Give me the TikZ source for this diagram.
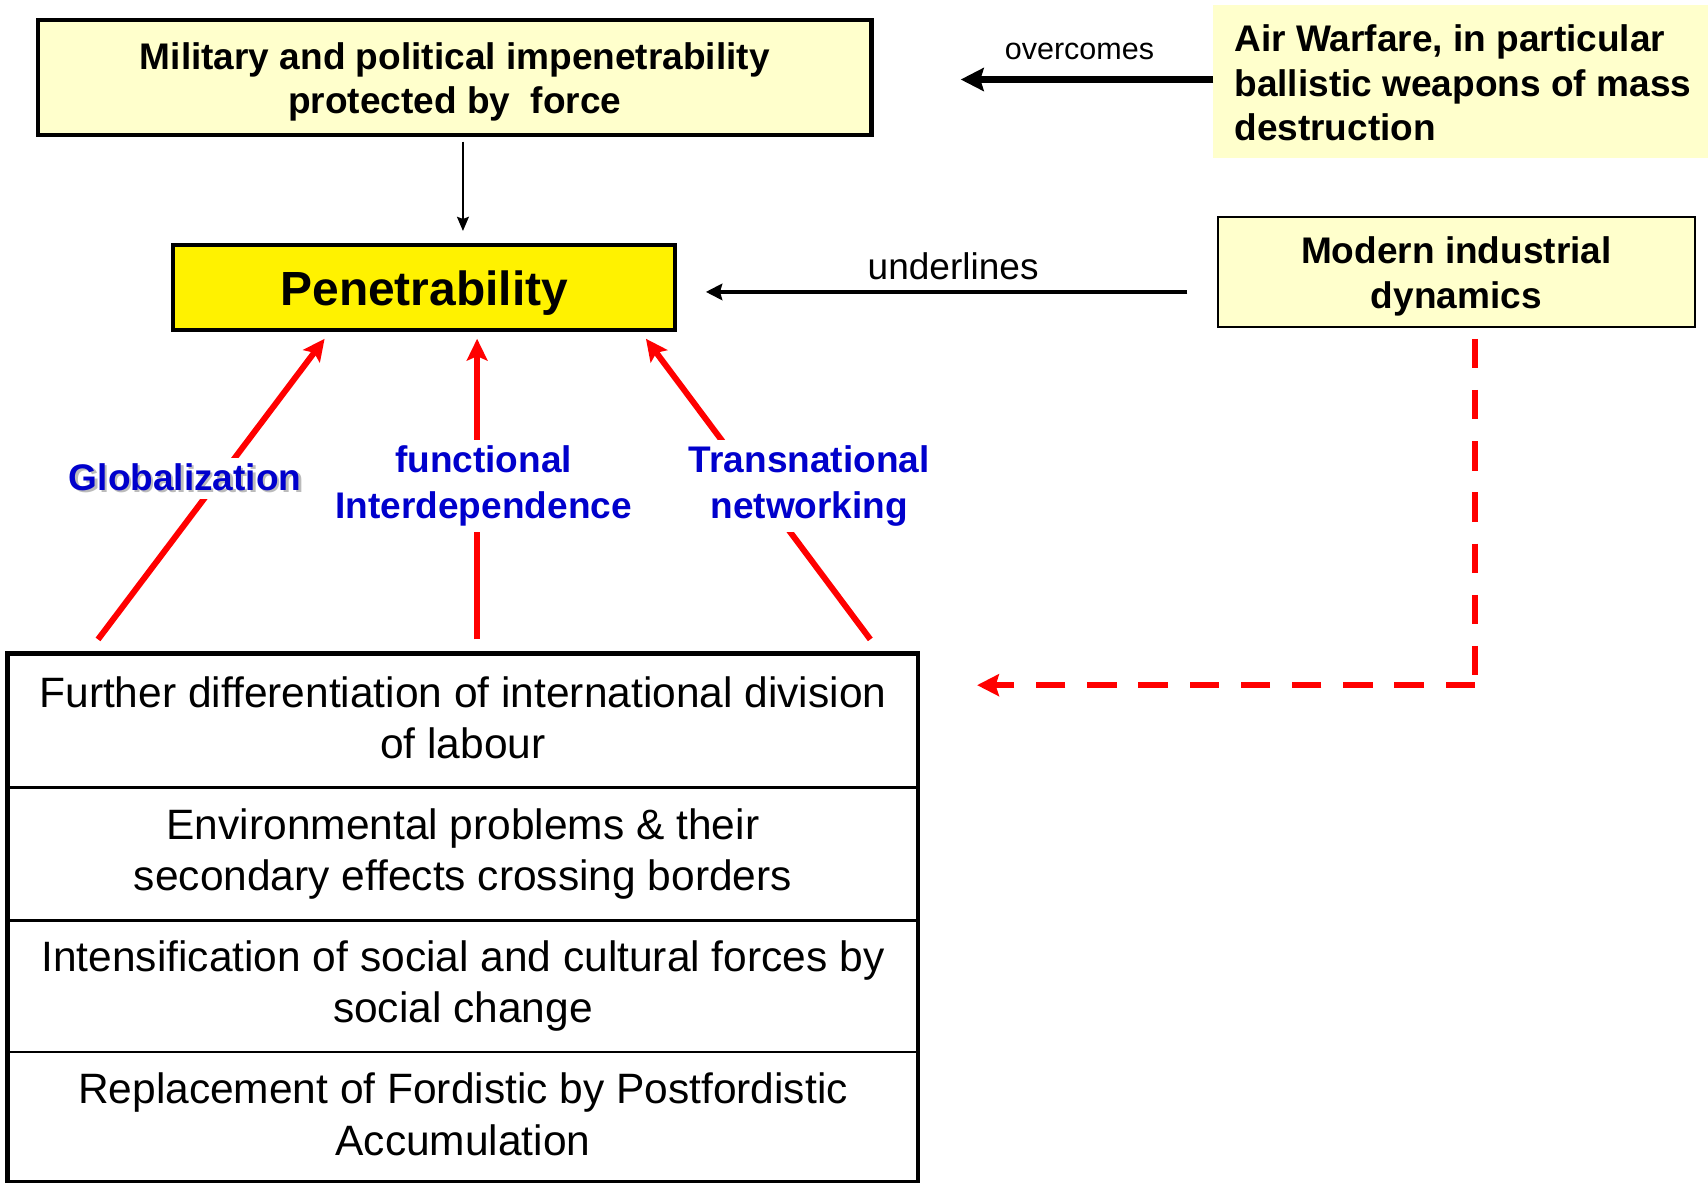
\documentclass[tikz,border=0pt]{standalone}
\usepackage{fontspec}
\setmainfont{Liberation Sans}
\usetikzlibrary{arrows.meta}
\definecolor{paleyellow}{HTML}{FFFFCC}
\definecolor{labelblue}{HTML}{0000CC}
\definecolor{shadowgray}{HTML}{BBBBBB}
\begin{document}
\begin{tikzpicture}[x=1pt,y=-1pt,
  box/.style={draw=black, line width=3.8pt, inner sep=0pt},
  headtext/.style={inner sep=0pt, align=center, font=\fontsize{34}{40}\selectfont\bfseries},
  sidetext/.style={inner sep=0pt, font=\fontsize{34}{41}\selectfont\bfseries},
  rowbox/.style={draw=black, line width=2pt, minimum width=834pt, inner sep=0pt},
  rowtext/.style={inner sep=0pt, align=center, font=\fontsize{39}{47}\selectfont},
  lbl/.style={fill=white, text=labelblue, align=center, inner xsep=2pt, inner ysep=5.5pt,
    font=\fontsize{34}{42}\selectfont\bfseries},
  redarrow/.style={draw=red, line width=5.5pt, -{Stealth[length=20pt,width=19pt,inset=4pt]}},
  reddash/.style={draw=red, line width=5.5pt, dash pattern=on 27pt off 20pt},
]
\useasboundingbox (0,0) rectangle (1568,1086);

% upper boxes and their texts
\node[box, fill=paleyellow, minimum width=765pt, minimum height=106pt] (top) at (417.5,71) {};
\node[headtext] (toptext) at (417.5,75) {Military and political impenetrability\\protected by\ \ force};

\node[box, fill=yellow, minimum width=461pt, minimum height=78pt] (pen) at (389.5,264) {};
\node[inner sep=0pt, font=\fontsize{44}{50}\selectfont\bfseries] (pentext) at (389.5,269) {Penetrability};

\node[fill=paleyellow, minimum width=454pt, minimum height=140pt, inner sep=0pt]
  (air) at (1341,75) {};
\node[anchor=west, align=left, sidetext] (airtext) at (1133,76)
  {Air Warfare, in particular\\ballistic weapons of mass\\destruction};

\node[draw=black, line width=2pt, fill=paleyellow, minimum width=438pt,
  minimum height=101pt, inner sep=0pt] (mod) at (1337,249.5) {};
\node[align=center, sidetext] (modtext) at (1337,253.5) {Modern industrial\\dynamics};

% black connectors
\coordinate (downStart) at (425,130);
\coordinate (downTip) at (425,212);
\draw[line width=1.5pt, -{Stealth[length=13pt,width=11pt,inset=2pt]}] (downStart) -- (downTip);

\coordinate (ovTip) at (882,73);
\draw[line width=6pt, -{Stealth[length=21pt,width=21pt,inset=3pt]}] (air.west |- ovTip) -- (ovTip);
\node[font=\fontsize{28}{34}\selectfont] (ovlabel) at (991,47) {overcomes};

\coordinate (ulTail) at (1090,268);
\coordinate (ulTip) at (648,268);
\draw[line width=4pt, -{Stealth[length=15pt,width=15pt,inset=2pt]}] (ulTail) -- (ulTip);
\node[font=\fontsize{34}{40}\selectfont] (ullabel) at (875,244) {underlines};

% red influence arrows
\coordinate (gFoot) at (90,587);   \coordinate (gTip) at (298,311);
\coordinate (fFoot) at (438,587);  \coordinate (fTip) at (438,311);
\coordinate (tFoot) at (799,587);  \coordinate (tTip) at (593,311);
\draw[redarrow] (gFoot) -- (gTip);
\draw[redarrow] (fFoot) -- (fTip);
\draw[redarrow] (tFoot) -- (tTip);

\node[lbl] (glob) at (170,439)
  {\rlap{\kern2pt\raisebox{-2pt}{\textcolor{shadowgray}{Globalization}}}Globalization};
\node[lbl] (func) at (444,446) {functional\\Interdependence};
\node[lbl] (trans) at (743,446) {Transnational\\networking};

% dashed feedback from industrial dynamics
\coordinate (dStart) at (1354,311);
\coordinate (dCorner) at (1354,629);
\coordinate (dTip) at (897,629);
\draw[reddash] (dStart) -- (dCorner);
\draw[reddash, -{Stealth[length=20pt,width=20pt,inset=3pt]}] (dCorner) -- (dTip);

% table of driving factors
\node[rowbox, minimum height=122pt] (r1) at (425,662) {};
\node[rowtext] (r1text) at (425,659)
  {Further differentiation of international division\\of labour};
\node[rowbox, minimum height=122pt] (r2) at (425,784) {};
\node[rowtext] (r2text) at (425,784)
  {Environmental problems \& their\\secondary effects crossing borders};
\node[rowbox, minimum height=121pt] (r3) at (425,905.5) {};
\node[rowtext] (r3text) at (425,905)
  {Intensification of social and cultural forces by\\social change};
\node[rowbox, minimum height=118pt] (r4) at (425,1025) {};
\node[rowtext] (r4text) at (425,1023)
  {Replacement of Fordistic by Postfordistic\\Accumulation};
\draw[line width=4pt] (r1.north west) rectangle (r4.south east);
\end{tikzpicture}
\end{document}
